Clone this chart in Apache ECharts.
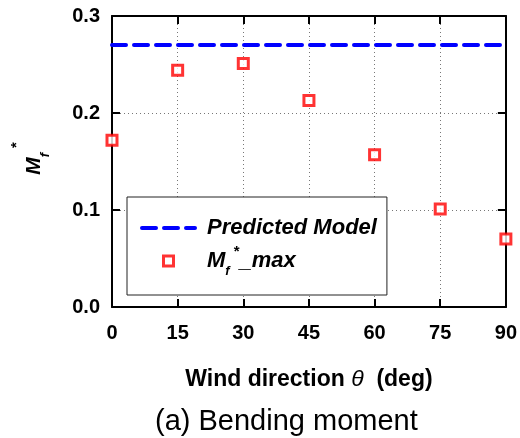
<!DOCTYPE html>
<html><head><meta charset="utf-8">
<script src="https://cdn.jsdelivr.net/npm/echarts@6/dist/echarts.min.js"></script>
<style>html,body{margin:0;padding:0;background:#fff}#c{width:520px;height:438px}</style>
</head><body><div id="c"></div>
<script>
const windDirections = [0, 15, 30, 45, 60, 75, 90];
const mfMax = [0.172, 0.244, 0.251, 0.213, 0.157, 0.101, 0.070];
const predictedModel = 0.27;
const xTickValues = [0, 15, 30, 45, 60, 75, 90];
const yTickValues = [0.0, 0.1, 0.2, 0.3];
const seriesNames = ['Predicted Model', 'Mf*_max'];

const FONT = '"Liberation Sans", Arial, sans-serif';
const chart = echarts.init(document.getElementById('c'), null, {renderer: 'canvas'});

const scatterData = windDirections.map((x, i) => [x, mfMax[i]]);
const predData = [[xTickValues[0], predictedModel], [xTickValues[xTickValues.length - 1], predictedModel]];

const axisCommon = {
  axisLine: {show: true, onZero: false, lineStyle: {color: '#000', width: 2}},
  axisTick: {show: true, inside: true, length: 8, lineStyle: {color: '#000', width: 2}},
};

chart.setOption({
  animation: false,
  backgroundColor: '#fff',
  title: {
    text: '(a) Bending moment',
    left: 155, top: 407, padding: 0,
    textStyle: {fontFamily: FONT, fontSize: 29, fontWeight: 'normal', color: '#000'}
  },
  grid: {left: 112, right: 12, top: 16, bottom: 131, containLabel: false},
  xAxis: [{
    type: 'value', min: xTickValues[0], max: xTickValues[xTickValues.length - 1], interval: 15,
    position: 'bottom',
    ...axisCommon,
    axisLabel: {margin: 16, color: '#000', fontFamily: FONT, fontSize: 20, fontWeight: 'bold'},
    splitLine: {show: true, lineStyle: {color: '#777', width: 1, type: [1, 3]}},
    name: '{b|Wind direction }{t|θ}{b|  (deg)}',
    nameLocation: 'middle', nameGap: 61,
    nameTextStyle: {
      rich: {
        b: {fontFamily: FONT, fontSize: 23, fontWeight: 'bold', color: '#000'},
        t: {fontFamily: FONT, fontSize: 23, fontStyle: 'italic', color: '#000'}
      }
    }
  }, {
    type: 'value', min: xTickValues[0], max: xTickValues[xTickValues.length - 1], interval: 15,
    position: 'top', ...axisCommon,
    axisLabel: {show: false}, splitLine: {show: false}
  }],
  yAxis: [{
    type: 'value', min: yTickValues[0], max: yTickValues[yTickValues.length - 1], interval: 0.1,
    position: 'left',
    ...axisCommon,
    axisLabel: {margin: 12, color: '#000', fontFamily: FONT, fontSize: 20, fontWeight: 'bold',
      formatter: v => v.toFixed(1)},
    splitLine: {show: true, lineStyle: {color: '#777', width: 1, type: [1, 3]}},
    name: '{m|M}{f|f}{s|*}',
    nameLocation: 'middle', nameGap: 52, nameRotate: 90,
    nameTextStyle: {
      rich: {
        m: {fontFamily: FONT, fontSize: 21, fontWeight: 'bold', fontStyle: 'italic', color: '#000', lineHeight: 51, padding: [0, 0, 0, 6]},
        f: {fontFamily: FONT, fontSize: 13, fontWeight: 'bold', fontStyle: 'italic', color: '#000', verticalAlign: 'bottom', padding: [0, 5, 8, 0]},
        s: {fontFamily: FONT, fontSize: 15, fontWeight: 'bold', color: '#000', verticalAlign: 'top'}
      }
    }
  }, {
    type: 'value', min: yTickValues[0], max: yTickValues[yTickValues.length - 1], interval: 0.1,
    position: 'right', ...axisCommon,
    axisLabel: {show: false}, splitLine: {show: false}
  }],
  legend: {
    orient: 'vertical', left: 127, top: 197,
    padding: [20, 10, 17, 13],
    itemWidth: 53, itemHeight: 13, itemGap: 5,
    symbolKeepAspect: true,
    backgroundColor: '#fff', borderColor: '#222', borderWidth: 1, borderRadius: 0,
    lineStyle: {color: '#0000ff', width: 4, type: [14, 8], cap: 'round'},
    data: [
      {name: seriesNames[0]},
      {name: seriesNames[1], icon: 'path://M0,0H13V13H0Z M3,3V10H10V3Z',
        itemStyle: {color: '#ff0000', borderWidth: 0}}
    ],
    formatter: name => name === seriesNames[0]
      ? '{p|Predicted Model}'
      : '{m|M}{f|f}{s|*}{p|_max}',
    textStyle: {
      padding: [0, 0, 0, 7],
      rich: {
        p: {fontFamily: FONT, fontSize: 22, fontWeight: 'bold', fontStyle: 'italic', color: '#000', lineHeight: 34},
        m: {fontFamily: FONT, fontSize: 22, fontWeight: 'bold', fontStyle: 'italic', color: '#000', lineHeight: 34},
        f: {fontFamily: FONT, fontSize: 13, fontWeight: 'bold', fontStyle: 'italic', color: '#000', verticalAlign: 'bottom', lineHeight: 30, padding: [0, 4, 0, 0]},
        s: {fontFamily: FONT, fontSize: 15, fontWeight: 'bold', color: '#000', verticalAlign: 'top', lineHeight: 14}
      }
    }
  },
  series: [{
    name: seriesNames[0], type: 'line', xAxisIndex: 0, yAxisIndex: 0,
    data: predData, symbol: 'circle', showSymbol: false,
    lineStyle: {color: '#0000ff', width: 4, type: [14, 8], cap: 'round'},
    itemStyle: {color: 'rgba(0,0,0,0)', borderWidth: 0}
  }, {
    name: seriesNames[1], type: 'scatter', xAxisIndex: 0, yAxisIndex: 0,
    data: scatterData, symbol: 'rect', symbolSize: 10, clip: false,
    itemStyle: {color: '#fff', borderColor: '#ff0000', borderWidth: 3}
  }]
});
</script></body></html>
